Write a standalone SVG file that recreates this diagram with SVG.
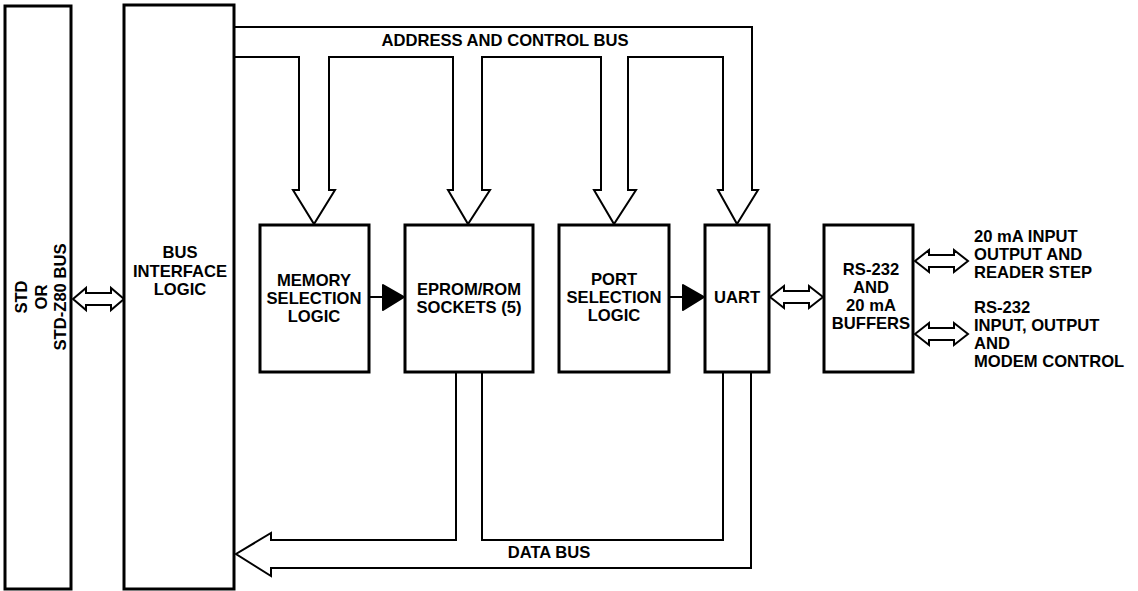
<svg xmlns="http://www.w3.org/2000/svg" width="1138" height="591" viewBox="0 0 1138 591">
<style>
.box{fill:#fff;stroke:#000;stroke-width:3}
.bus{fill:#fff;stroke:#000;stroke-width:2;stroke-linejoin:miter}
.dbl{fill:#fff;stroke:#000;stroke-width:2}
.sol{fill:#000;stroke:#000;stroke-width:2;stroke-linejoin:round}
.ln{stroke:#000;stroke-width:2;fill:none}
text{font-family:"Liberation Sans",Arial,sans-serif;font-weight:bold;font-size:16.6px;fill:#000}
.c{text-anchor:middle}
</style>
<rect width="1138" height="591" fill="#fff"/>
<g id="connectors">
<path class="bus" d="M234 27 H752 V190 H758 L737 224 L718 190 H723 V57 H628 V190 H636 L614 224 L594 190 H601 V57 H482 V190 H490 L468 224 L448 190 H453 V57 H329 V190 H335 L314 224 L293 190 H299 V57 H234"/>
<path class="bus" d="M751 372 V568 H271 V576 L236 554 L271 533 V540 H456 V372"/>
<path class="bus" d="M482 372 V540 H723 V372"/>
<path class="dbl" d="M73 299 L86 288 V293 H111 V288 L124 299 L111 310 V305 H86 V310 Z"/>
<path class="dbl" d="M770 297 L784 286 V291 H809 V286 L823 297 L809 308 V303 H784 V308 Z"/>
<path class="dbl" d="M915 261 L929 250 V255 H954 V250 L968 261 L954 272 V267 H929 V272 Z"/>
<path class="dbl" d="M915 334 L929 323 V328 H954 V323 L968 334 L954 345 V340 H929 V345 Z"/>
<line class="ln" x1="369" y1="297" x2="383" y2="297"/>
<polygon class="sol" points="383,285 404,297 383,310"/>
<line class="ln" x1="669" y1="297" x2="683" y2="297"/>
<polygon class="sol" points="683,285 704,297 683,310"/>
<text class="c" x="505" y="46">ADDRESS AND CONTROL BUS</text>
<text class="c" x="549" y="558">DATA BUS</text>
</g>
<g id="std-bus">
<rect class="box" x="5" y="6" width="66" height="583"/>
<g transform="translate(0,297) rotate(-90)">
<text class="c" x="0" y="27">STD</text>
<text class="c" x="0" y="47">OR</text>
<text class="c" x="0" y="66">STD-Z80 BUS</text>
</g>
</g>
<g id="bus-interface">
<rect class="box" x="124" y="5" width="110" height="584"/>
<text class="c" x="180" y="258">BUS</text>
<text class="c" x="180" y="277">INTERFACE</text>
<text class="c" x="180" y="295">LOGIC</text>
</g>
<g id="memory-selection">
<rect class="box" x="260" y="225" width="109" height="147"/>
<text class="c" x="314" y="286">MEMORY</text>
<text class="c" x="314" y="304">SELECTION</text>
<text class="c" x="314" y="322">LOGIC</text>
</g>
<g id="eprom">
<rect class="box" x="405" y="225" width="128" height="147"/>
<text class="c" x="469" y="295">EPROM/ROM</text>
<text class="c" x="469" y="313">SOCKETS (5)</text>
</g>
<g id="port-selection">
<rect class="box" x="559" y="225" width="110" height="147"/>
<text class="c" x="614" y="285">PORT</text>
<text class="c" x="614" y="303">SELECTION</text>
<text class="c" x="614" y="321">LOGIC</text>
</g>
<g id="uart">
<rect class="box" x="705" y="225" width="64" height="147"/>
<text class="c" x="737" y="303">UART</text>
</g>
<g id="buffers">
<rect class="box" x="824" y="225" width="89" height="147"/>
<text class="c" x="871" y="275">RS-232</text>
<text class="c" x="871" y="293">AND</text>
<text class="c" x="871" y="311">20 mA</text>
<text class="c" x="871" y="329">BUFFERS</text>
</g>
<g id="labels-right">
<text x="974" y="242">20 mA INPUT</text>
<text x="974" y="260">OUTPUT AND</text>
<text x="974" y="278">READER STEP</text>
<text x="974" y="313">RS-232</text>
<text x="974" y="331">INPUT, OUTPUT</text>
<text x="974" y="349">AND</text>
<text x="974" y="367">MODEM CONTROL</text>
</g>
</svg>
